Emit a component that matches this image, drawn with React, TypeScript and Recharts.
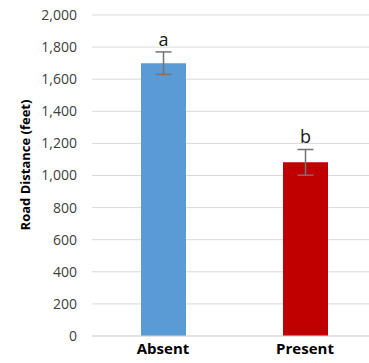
import React from 'react';
import { BarChart, Bar, XAxis, YAxis, CartesianGrid, ErrorBar, LabelList, Cell, Label } from 'recharts';

const categories = ['Absent', 'Present'];
const distances = [1700, 1082];
const errors = [70, 80];
const letters = ['a', 'b'];
const colors = ['#5b9bd5', '#c00000'];
const yTicks = [0, 200, 400, 600, 800, 1000, 1200, 1400, 1600, 1800, 2000];

const data = categories.map((c, i) => ({
  name: c,
  distance: distances[i],
  err: errors[i],
  sig: letters[i],
}));

const font = '"Open Sans", "Noto Sans", sans-serif';

const SigLabel = (props: any) => {
  const { x, y, width, height, value, index } = props;
  const perUnit = height / distances[index];
  const errTop = y - errors[index] * perUnit;
  return (
    <text x={x + width / 2} y={errTop - 6} textAnchor="middle" fontSize={18} fill="#1a1a1a" fontFamily={font}>
      {value}
    </text>
  );
};

const AxisTitle = (props: any) => {
  const { viewBox } = props;
  const cx = viewBox.x + 25;
  const cy = viewBox.y + 150;
  return (
    <text
      x={cx}
      y={cy}
      transform={`rotate(-90, ${cx}, ${cy})`}
      textAnchor="middle"
      dominantBaseline="central"
      fontSize={13}
      fontWeight="bold"
      fill="#000"
      fontFamily={font}
    >
      Road Distance (feet)
    </text>
  );
};

export default function App() {
  return (
    <div style={{ position: 'fixed', left: 0, top: 0, width: 369, height: 363, overflow: 'hidden', background: '#fff' }}>
      <BarChart width={376} height={363} data={data} margin={{ top: 15, right: 0, bottom: 0, left: 0 }}>
        <CartesianGrid vertical={false} stroke="#d9d9d9" />
        <XAxis
          dataKey="name"
          height={27}
          axisLine={{ stroke: '#d9d9d9' }}
          tickLine={false}
          tickSize={0}
          tickMargin={7}
          tick={{ fontSize: 15, fontWeight: 'bold', fill: '#000', fontFamily: font }}
        />
        <YAxis
          width={92}
          domain={[0, 2000]}
          ticks={yTicks}
          interval={0}
          axisLine={false}
          tickLine={false}
          tickSize={0}
          tickMargin={15}
          tickFormatter={(v: number) => v.toLocaleString('en-US')}
          tick={{ fontSize: 14, fill: '#404040', fontFamily: font }}
        >
          <Label content={<AxisTitle />} />
        </YAxis>
        <Bar dataKey="distance" barSize={45} isAnimationActive={false}>
          {data.map((d, i) => (
            <Cell key={d.name} fill={colors[i]} />
          ))}
          <ErrorBar dataKey="err" width={8} stroke="#737373" strokeWidth={1.5} direction="y" isAnimationActive={false} />
          <LabelList dataKey="sig" content={<SigLabel />} />
        </Bar>
      </BarChart>
    </div>
  );
}
